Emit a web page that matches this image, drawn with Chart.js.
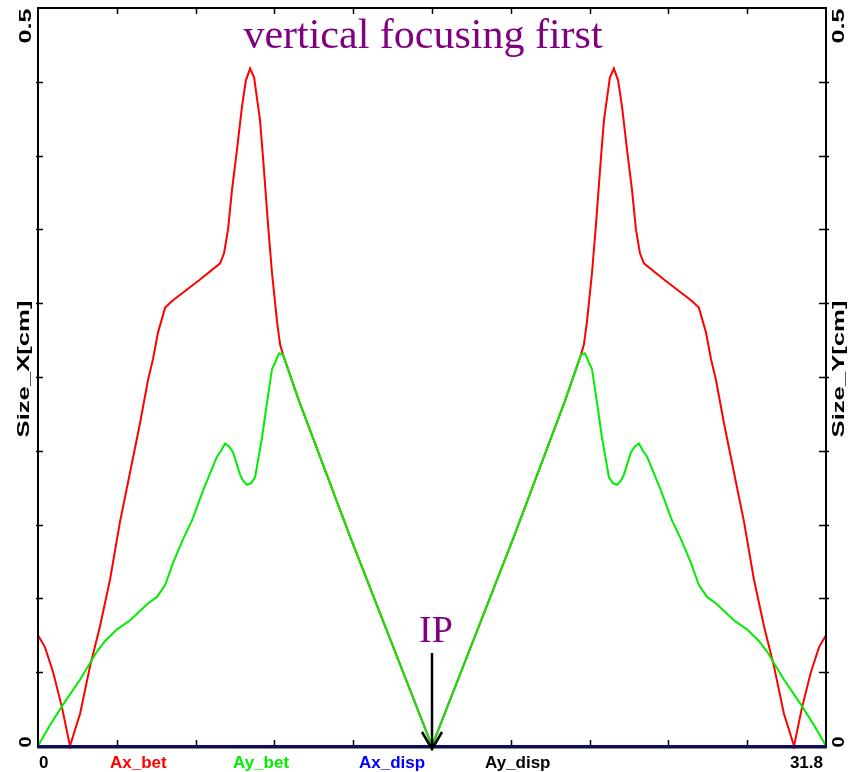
<!DOCTYPE html>
<html>
<head>
<meta charset="utf-8">
<script src="https://cdn.jsdelivr.net/npm/chart.js@4/dist/chart.umd.min.js"></script>
<style>
  html, body { margin: 0; padding: 0; background: #ffffff; }
  #wrap { width: 857px; height: 772px; position: relative; }
</style>
</head>
<body>
<div id="wrap"><canvas id="c" width="857" height="772"></canvas></div>
<script>
// Beam envelope along the lattice, s in metres, sizes in cm
const sAxBet = [0, 0.28, 0.61, 0.97, 1.29, 1.70, 2.10, 2.50, 2.91, 3.31, 3.71, 4.12, 4.44, 4.64, 4.84, 5.13, 5.45, 6.54, 7.35, 7.51, 7.67, 7.83, 8.03, 8.23, 8.39, 8.56, 8.72, 8.96, 9.08, 9.28, 9.44, 9.65, 9.77, 9.89, 10.53, 12.59, 15.90,
                19.21, 21.27, 21.91, 22.03, 22.15, 22.36, 22.52, 22.72, 22.84, 23.08, 23.24, 23.41, 23.57, 23.77, 23.97, 24.13, 24.29, 24.45, 25.26, 26.35, 26.67, 26.96, 27.16, 27.36, 27.68, 28.09, 28.49, 28.89, 29.30, 29.70, 30.10, 30.51, 30.83, 31.19, 31.52, 31.80];
const axBet  = [0.075, 0.067, 0.050, 0.026, 0, 0.022, 0.054, 0.081, 0.113, 0.152, 0.185, 0.219, 0.248, 0.262, 0.280, 0.297, 0.302, 0.316, 0.327, 0.334, 0.350, 0.377, 0.404, 0.433, 0.451, 0.459, 0.453, 0.424, 0.399, 0.354, 0.321, 0.287, 0.272, 0.265, 0.234, 0.142, 0,
                0.142, 0.234, 0.265, 0.272, 0.287, 0.321, 0.354, 0.399, 0.424, 0.453, 0.459, 0.451, 0.433, 0.404, 0.377, 0.350, 0.334, 0.327, 0.316, 0.302, 0.297, 0.280, 0.262, 0.248, 0.219, 0.185, 0.152, 0.113, 0.081, 0.054, 0.022, 0, 0.026, 0.050, 0.067, 0.075];

const sAyBet = [0, 0.48, 1.01, 1.70, 2.38, 2.70, 3.19, 3.71, 4.40, 4.80, 5.13, 5.45, 5.85, 6.22, 6.66, 7.22, 7.39, 7.55, 7.71, 7.87, 8.15, 8.27, 8.43, 8.60, 8.76, 9.04, 9.28, 9.44, 9.73, 9.89, 10.53, 12.59, 15.90,
                19.21, 21.27, 21.91, 22.07, 22.36, 22.52, 22.76, 23.04, 23.20, 23.37, 23.53, 23.65, 23.93, 24.09, 24.25, 24.41, 24.58, 25.14, 25.58, 25.95, 26.35, 26.67, 27.00, 27.40, 28.09, 28.61, 29.10, 29.42, 30.10, 30.79, 31.32, 31.80];
const ayBet  = [0, 0.014, 0.028, 0.045, 0.064, 0.071, 0.079, 0.085, 0.096, 0.101, 0.109, 0.124, 0.140, 0.153, 0.173, 0.196, 0.200, 0.205, 0.203, 0.199, 0.184, 0.180, 0.177, 0.178, 0.182, 0.209, 0.237, 0.255, 0.266, 0.265, 0.234, 0.142, 0,
                0.142, 0.234, 0.265, 0.266, 0.255, 0.237, 0.209, 0.182, 0.178, 0.177, 0.180, 0.184, 0.199, 0.203, 0.205, 0.200, 0.196, 0.173, 0.153, 0.140, 0.124, 0.109, 0.101, 0.096, 0.085, 0.079, 0.071, 0.064, 0.045, 0.028, 0.014, 0];

const sDisp  = [0, 31.80];
const axDisp = [0, 0];
const ayDisp = [0, 0];

const seriesNames = ['Ax_bet', 'Ay_bet', 'Ax_disp', 'Ay_disp'];
const seriesColors = ['#ff0000', '#00ee00', '#0000ff', '#000000'];
const xTickLabels = ['0', '31.8'];
const yTickLabels = ['0', '0.5'];
const xRange = [0, 31.8];
const yRange = [0, 0.5];
const titleText = 'vertical focusing first';
const markerText = 'IP';
const markerS = 15.90;

const pts = (xs, ys) => xs.map((x, i) => ({ x: x, y: ys[i] }));

// Stretched text, optionally rotated to read bottom-to-top
function drawText(ctx, txt, cx, cy, font, color, rotated, len) {
  ctx.save();
  ctx.font = font;
  ctx.fillStyle = color;
  ctx.textAlign = 'center';
  ctx.textBaseline = 'middle';
  ctx.translate(cx, cy);
  if (rotated) ctx.rotate(-Math.PI / 2);
  const w = ctx.measureText(txt).width;
  if (len) ctx.scale(len / w, 1);
  ctx.fillText(txt, 0, 0);
  ctx.restore();
}

const framePlugin = {
  id: 'frame',
  afterDatasetsDraw(chart) {
    const ctx = chart.ctx;
    const a = chart.chartArea;
    const xs = chart.scales.x, ys = chart.scales.y;
    ctx.save();
    // frame
    ctx.strokeStyle = '#000000';
    ctx.lineWidth = 2;
    ctx.beginPath();
    ctx.moveTo(a.left, a.bottom);
    ctx.lineTo(a.left, a.top);
    ctx.lineTo(a.right, a.top);
    ctx.lineTo(a.right, a.bottom);
    ctx.stroke();
    ctx.strokeStyle = '#10103c';
    ctx.lineWidth = 3;
    ctx.beginPath();
    ctx.moveTo(a.left - 1, a.bottom + 1);
    ctx.lineTo(a.right + 1, a.bottom + 1);
    ctx.stroke();

    // inward ticks
    ctx.strokeStyle = '#000000';
    ctx.lineWidth = 1.5;
    for (let i = 1; i < 10; i++) {
      const v = yRange[0] + (yRange[1] - yRange[0]) * i / 10;
      const py = Math.round(ys.getPixelForValue(v)) + 0.5;
      ctx.beginPath();
      ctx.moveTo(a.left - 2, py); ctx.lineTo(a.left + 5, py);
      ctx.moveTo(a.right - 7, py); ctx.lineTo(a.right + 3, py);
      ctx.stroke();
      const u = xRange[0] + (xRange[1] - xRange[0]) * i / 10;
      const px = Math.round(xs.getPixelForValue(u)) + 0.5;
      ctx.beginPath();
      ctx.moveTo(px, a.top); ctx.lineTo(px, a.top + 6);
      ctx.moveTo(px, a.bottom - 6); ctx.lineTo(px, a.bottom);
      ctx.stroke();
    }

    const bold = 'bold 17px "Liberation Sans", Arial, sans-serif';
    // y tick labels, both sides
    const y0 = ys.getPixelForValue(yRange[0]);
    const y1 = ys.getPixelForValue(yRange[1]);
    drawText(ctx, yTickLabels[0], 26, y0 - 4, bold, '#000', true, 11);
    drawText(ctx, yTickLabels[1], 26, y1 + 18, bold, '#000', true, 35);
    drawText(ctx, yTickLabels[0], 839, y0 - 4, bold, '#000', true, 11);
    drawText(ctx, yTickLabels[1], 839, y1 + 18, bold, '#000', true, 35);
    // axis titles
    const midY = (a.top + a.bottom) / 2;
    drawText(ctx, 'Size_X[cm]', 25, midY - 8, 'bold 16px "Liberation Sans", Arial, sans-serif', '#000', true, 137);
    drawText(ctx, 'Size_Y[cm]', 840, midY - 8, 'bold 16px "Liberation Sans", Arial, sans-serif', '#000', true, 137);

    // x tick labels
    ctx.font = bold;
    ctx.fillStyle = '#000';
    ctx.textBaseline = 'alphabetic';
    ctx.textAlign = 'left';
    ctx.fillText(xTickLabels[0], xs.getPixelForValue(xRange[0]) + 1, 768);
    ctx.textAlign = 'right';
    ctx.fillText(xTickLabels[1], xs.getPixelForValue(xRange[1]) - 3, 768);

    // series names along the bottom
    const nameX = [110, 233, 359, 485];
    ctx.textAlign = 'left';
    seriesNames.forEach((n, i) => {
      ctx.fillStyle = seriesColors[i];
      ctx.fillText(n, nameX[i], 768);
    });

    // title
    ctx.font = '42px "Liberation Serif", "Times New Roman", serif';
    ctx.fillStyle = '#800080';
    ctx.textAlign = 'center';
    ctx.fillText(titleText, 423, 48);

    // interaction point marker
    const ipx = Math.round(xs.getPixelForValue(markerS));
    ctx.font = '38px "Liberation Serif", "Times New Roman", serif';
    ctx.fillText(markerText, ipx + 4, 642);
    ctx.strokeStyle = '#000000';
    ctx.lineWidth = 2.5;
    ctx.beginPath();
    ctx.moveTo(ipx, 653);
    ctx.lineTo(ipx, a.bottom + 3);
    ctx.moveTo(ipx - 10, a.bottom - 14);
    ctx.lineTo(ipx, a.bottom + 3);
    ctx.lineTo(ipx + 10, a.bottom - 14);
    ctx.stroke();
    ctx.restore();
  }
};

new Chart(document.getElementById('c'), {
  type: 'line',
  data: {
    datasets: [
      { label: seriesNames[0], data: pts(sAxBet, axBet), borderColor: seriesColors[0], borderWidth: 2, pointRadius: 0, tension: 0, order: 2, clip: false },
      { label: seriesNames[1], data: pts(sAyBet, ayBet), borderColor: seriesColors[1], borderWidth: 2, pointRadius: 0, tension: 0, order: 1, clip: false },
      { label: seriesNames[2], data: pts(sDisp, axDisp), borderColor: seriesColors[2], borderWidth: 2, pointRadius: 0, order: 0, clip: false },
      { label: seriesNames[3], data: pts(sDisp, ayDisp), borderColor: seriesColors[3], borderWidth: 2, pointRadius: 0, order: 0, clip: false }
    ]
  },
  options: {
    responsive: false,
    animation: false,
    layout: { padding: { left: 38, right: 31, top: 8, bottom: 26 } },
    plugins: { legend: { display: false }, tooltip: { enabled: false }, title: { display: false } },
    scales: {
      x: { type: 'linear', min: xRange[0], max: xRange[1], display: false },
      y: { type: 'linear', min: yRange[0], max: yRange[1], display: false }
    }
  },
  plugins: [framePlugin]
});
</script>
</body>
</html>
